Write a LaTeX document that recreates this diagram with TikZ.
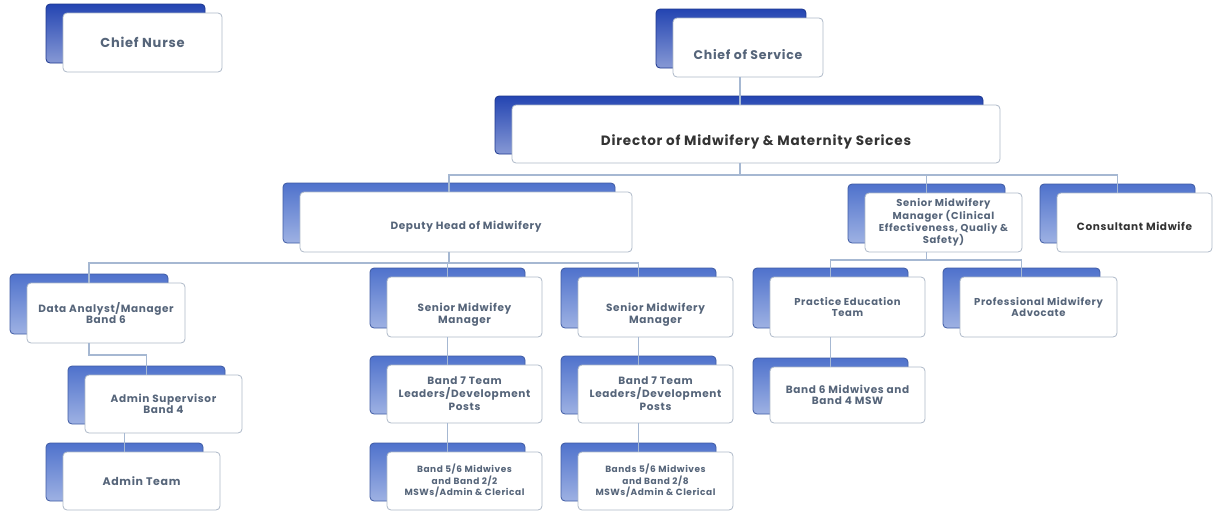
\documentclass[tikz,border=0pt]{standalone}
\usepackage{fontspec}
\setmainfont{Poppins}[LetterSpace=6]
\usetikzlibrary{positioning, calc, shadows}

\definecolor{deepback}{HTML}{2445B2}
\definecolor{paleback}{HTML}{4F72CC}
\definecolor{boxline}{HTML}{AEB9C8}
\definecolor{boxtext}{HTML}{56657A}
\definecolor{connline}{HTML}{A6B8D2}

\tikzset{
  orgbox/.style={draw=boxline, fill=white, line width=0.8pt, rounded corners=4pt,
    align=center, text=boxtext, font=\bfseries\fontsize{10.5}{11.5}\selectfont,
    minimum width=156pt, minimum height=59pt, inner sep=3pt,
    general shadow={top color=#1, bottom color=#1!55!white, draw=#1!80!black,
      rounded corners=5pt, shadow xshift=-17pt, shadow yshift=9pt}},
  orgbox/.default=paleback,
  lowtext/.style={text height=#1, text depth=0pt},
  conn/.style={draw=connline, line width=1.5pt}
}

\begin{document}
\begin{tikzpicture}[x=1pt, y={(0pt,-1pt)}]
    \useasboundingbox (0,0) rectangle (1218,512);
    % top row
    \node[orgbox=deepback, minimum width=159pt, font=\bfseries\fontsize{13}{14}\selectfont] (nurse) at (142.5,42.5) {Chief Nurse};
    \node[orgbox=deepback, minimum width=150pt, lowtext=23pt, font=\bfseries\fontsize{12.5}{14}\selectfont] (cos) at (748,47.5) {Chief of Service};
    \node[orgbox=deepback, minimum width=488pt, minimum height=58pt, lowtext=23pt, font=\bfseries\fontsize{13.5}{14}\selectfont, text=black!80] (dir) at (756,134) {Director of Midwifery \&\ Maternity Serices};
    % second row
    \node[orgbox, minimum width=332pt, minimum height=60pt, lowtext=15pt] (dep) at (466,222) {Deputy Head of Midwifery};
    \node[orgbox, minimum width=157pt, font=\bfseries\fontsize{10}{9}\selectfont] (smc) at (943.5,222.5) {Senior Midwifery\\Manager (Clinical\\Effectiveness, Qualiy \&\\Safety)};
    \node[orgbox, minimum width=155pt, lowtext=15pt, text=black!80] (con) at (1134.5,222.5) {Consultant Midwife};
    % third row
    \node[orgbox, minimum width=158pt, minimum height=60pt] (data) at (106,313) {Data Analyst/Manager\\Band 6};
    \node[orgbox, minimum width=155pt, minimum height=60pt, lowtext=32pt] (smone) at (464.5,307) {Senior Midwifey\\Manager};
    \node[orgbox, minimum width=155pt, minimum height=60pt, lowtext=32pt] (smtwo) at (655.5,307) {Senior Midwifery\\Manager};
    \node[orgbox, minimum width=155pt, minimum height=60pt, font=\bfseries\fontsize{10}{11}\selectfont] (pet) at (847.5,307) {Practice Education\\Team};
    \node[orgbox, minimum width=157pt, minimum height=60pt, font=\bfseries\fontsize{10}{11}\selectfont] (pma) at (1038.5,307) {Professional Midwifery\\Advocate};
    % fourth row
    \node[orgbox, minimum width=157pt, minimum height=58pt] (adsup) at (163.5,404) {Admin Supervisor\\Band 4};
    \node[orgbox, minimum width=155pt, minimum height=58pt, font=\bfseries\fontsize{10.5}{13}\selectfont] (bsevone) at (464.5,394) {Band 7 Team\\Leaders/Development\\Posts};
    \node[orgbox, minimum width=155pt, minimum height=58pt, font=\bfseries\fontsize{10.5}{13}\selectfont] (bsevtwo) at (655.5,394) {Band 7 Team\\Leaders/Development\\Posts};
    \node[orgbox, minimum width=155pt, minimum height=56pt] (bsix) at (847.5,395) {Band 6 Midwives and\\Band 4 MSW};
    % bottom row
    \node[orgbox, minimum width=157pt, minimum height=58pt, font=\bfseries\fontsize{11}{12}\selectfont] (adteam) at (141.5,481) {Admin Team};
    \node[orgbox, minimum width=155pt, minimum height=58pt, font=\bfseries\fontsize{9}{11.5}\selectfont] (bfivone) at (464.5,481) {Band 5/6 Midwives\\and Band 2/2\\MSWs/Admin \&\ Clerical};
    \node[orgbox, minimum width=155pt, minimum height=58pt, font=\bfseries\fontsize{9}{11.5}\selectfont] (bfivtwo) at (655.5,481) {Bands 5/6 Midwives\\and Band 2/8\\MSWs/Admin \&\ Clerical};

    % bus lines
    \coordinate (busa) at (0,175);
    \coordinate (busb) at (0,263);
    \coordinate (busc) at (0,260);
    \coordinate (busd) at (0,355);

    \draw[conn] ([xshift=-8pt]cos.south) -- ([xshift=-8pt]cos.south |- dir.north);
    \draw[conn] ([xshift=-16pt]dir.south) -- ([xshift=-16pt]dir.south |- busa);
    \draw[conn] ([xshift=-17pt]dep.north) |- ([xshift=-17pt]con.north |- busa) -- ([xshift=-17pt]con.north);
    \draw[conn] ([xshift=-17pt]smc.north) -- ([xshift=-17pt]smc.north |- busa);

    \draw[conn] ([xshift=-17pt]dep.south) -- ([xshift=-17pt]dep.south |- busb);
    \draw[conn] ([xshift=-17pt]data.north) |- ([xshift=-17pt]smtwo.north |- busb) -- ([xshift=-17pt]smtwo.north);
    \draw[conn] ([xshift=-17pt]smone.north) -- ([xshift=-17pt]smone.north |- busb);

    \draw[conn] ([xshift=-17pt]smc.south) -- ([xshift=-17pt]smc.south |- busc);
    \draw[conn] ([xshift=-17pt]pet.north) |- ([xshift=-17pt]pma.north |- busc) -- ([xshift=-17pt]pma.north);

    \draw[conn] ([xshift=-17pt]data.south) |- ([xshift=-17pt]adsup.north |- busd) -- ([xshift=-17pt]adsup.north);
    \draw[conn] ([xshift=-17pt]adteam.north |- adsup.south) -- ([xshift=-17pt]adteam.north);

    \draw[conn] ([xshift=-17pt]smone.south) -- ([xshift=-17pt]bsevone.north);
    \draw[conn] ([xshift=-17pt]bsevone.south) -- ([xshift=-17pt]bfivone.north);
    \draw[conn] ([xshift=-17pt]smtwo.south) -- ([xshift=-17pt]bsevtwo.north);
    \draw[conn] ([xshift=-17pt]bsevtwo.south) -- ([xshift=-17pt]bfivtwo.north);
    \draw[conn] ([xshift=-17pt]pet.south) -- ([xshift=-17pt]bsix.north);
\end{tikzpicture}
\end{document}
